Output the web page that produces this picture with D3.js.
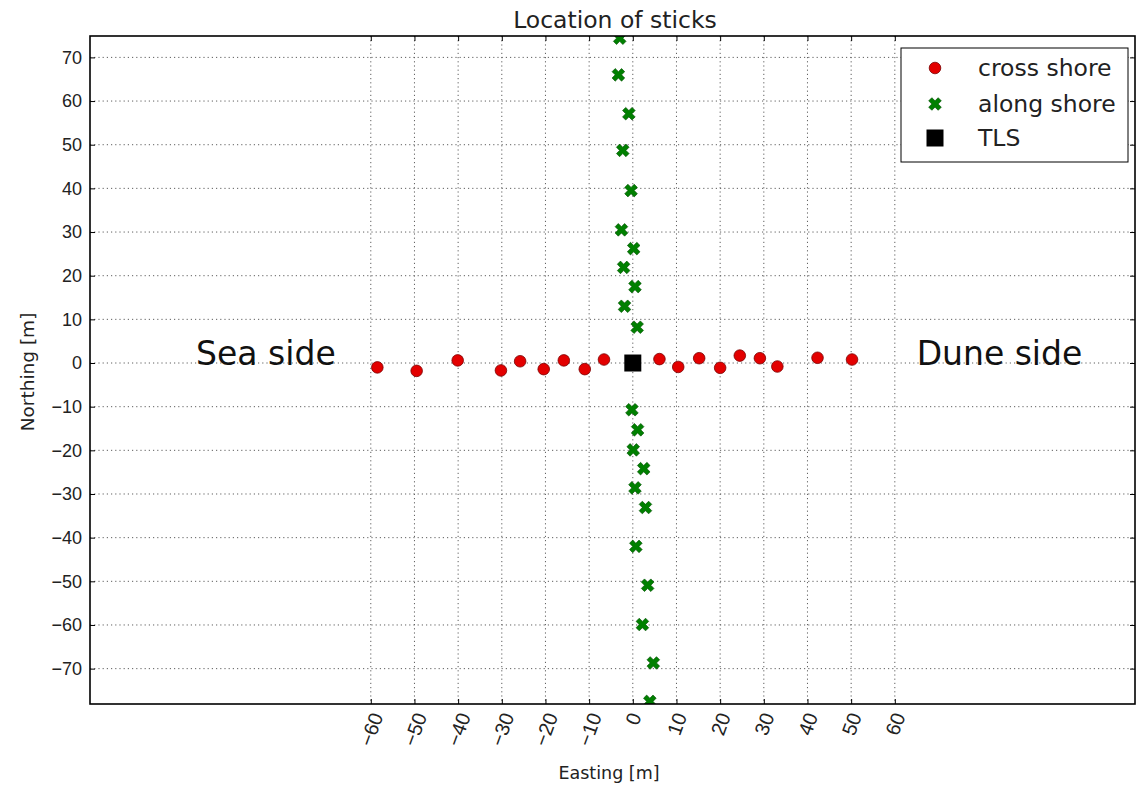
<!DOCTYPE html>
<html>
<head>
<meta charset="utf-8">
<script src="https://cdn.jsdelivr.net/npm/d3@7"></script>
<style>
  body { margin: 0; background: #fff; }
  svg { font-family: "DejaVu Sans", sans-serif; }
</style>
</head>
<body>
<svg id="chart" width="1136" height="787"></svg>
<script>
// stick positions
const crossX = [-58.5, -49.5, -40.1, -30.2, -25.8, -20.4, -15.8, -11.0, -6.6, 6.1, 10.4, 15.2, 20.0, 24.5, 29.1, 33.1, 42.3, 50.2];
const crossY = [-1.0, -1.8, 0.6, -1.7, 0.4, -1.4, 0.6, -1.4, 0.8, 0.9, -0.9, 1.1, -1.1, 1.7, 1.1, -0.8, 1.2, 0.8];
const alongX = [-3.0, -3.3, -0.9, -2.3, -0.4, -2.6, 0.2, -2.1, 0.5, -1.9, 1.0, -0.2, 1.1, 0.1, 2.5, 0.5, 2.9, 0.7, 3.4, 2.2, 4.7, 3.9];
const alongY = [74.4, 66.0, 57.1, 48.7, 39.5, 30.5, 26.2, 21.9, 17.5, 13.0, 8.2, -10.7, -15.3, -19.9, -24.2, -28.6, -33.1, -42.0, -50.9, -59.9, -68.7, -77.5];
const tlsX = [0];
const tlsY = [0];
const xTicks = [-60, -50, -40, -30, -20, -10, 0, 10, 20, 30, 40, 50, 60];
const yTicks = [-70, -60, -50, -40, -30, -20, -10, 0, 10, 20, 30, 40, 50, 60, 70];
const legendLabels = ["cross shore", "along shore", "TLS"];

const svg = d3.select("#chart");
const pLeft = 90, pRight = 1135, pTop = 36, pBottom = 704;

const x = d3.scaleLinear().domain([-124.3, 115]).range([pLeft, pRight]);
const y = d3.scaleLinear().domain([-78.1, 74.9]).range([pBottom, pTop]);

svg.append("defs").append("clipPath").attr("id", "clip")
  .append("rect").attr("x", pLeft).attr("y", pTop)
  .attr("width", pRight - pLeft).attr("height", pBottom - pTop);

// grid
const grid = svg.append("g").attr("stroke", "#444").attr("stroke-width", 1)
  .attr("stroke-dasharray", "1.2,3").attr("opacity", 0.85);
grid.selectAll(".gx").data(xTicks).join("line")
  .attr("x1", d => x(d)).attr("x2", d => x(d)).attr("y1", pTop).attr("y2", pBottom);
grid.selectAll(".gy").data(yTicks).join("line")
  .attr("y1", d => y(d)).attr("y2", d => y(d)).attr("x1", pLeft).attr("x2", pRight);

// axes (ticks point inward)
const fmt = d3.format("d");
const axisStyle = size => g => {
  g.select(".domain").remove();
  g.selectAll(".tick line").attr("stroke", "#000").attr("stroke-width", 1);
  g.selectAll("text").attr("fill", "#222").style("font-size", size);
};
svg.append("g").attr("transform", `translate(${pLeft},0)`)
  .call(d3.axisLeft(y).tickValues(yTicks).tickFormat(fmt).tickSizeInner(-5).tickSizeOuter(0).tickPadding(8))
  .call(axisStyle("18px"));
svg.append("g").attr("transform", `translate(${pRight},0)`)
  .call(d3.axisRight(y).tickValues(yTicks).tickFormat("").tickSizeInner(-5).tickSizeOuter(0))
  .call(axisStyle("18px"));
svg.append("g").attr("transform", `translate(0,${pTop})`)
  .call(d3.axisTop(x).tickValues(xTicks).tickFormat("").tickSizeInner(-5).tickSizeOuter(0))
  .call(axisStyle("18px"));
const xAxis = svg.append("g").attr("transform", `translate(0,${pBottom})`)
  .call(d3.axisBottom(x).tickValues(xTicks).tickFormat(fmt).tickSizeInner(-5).tickSizeOuter(0))
  .call(axisStyle("20px"));

// rotated x labels, bbox centred under the tick like matplotlib
const th = 70 * Math.PI / 180;
xAxis.selectAll(".tick text").each(function() {
  const t = d3.select(this);
  const w = this.getComputedTextLength();
  const h = 15;
  const cy = 7 + (w * Math.sin(th) + h * Math.cos(th)) / 2;
  t.attr("y", null).attr("dy", null)
    .attr("text-anchor", "middle").attr("dominant-baseline", "central")
    .attr("transform", `translate(0,${cy}) rotate(-70)`);
});

// marks
const plot = svg.append("g").attr("clip-path", "url(#clip)");

plot.selectAll(".cross").data(crossX).join("circle")
  .attr("cx", d => x(d)).attr("cy", (d, i) => y(crossY[i])).attr("r", 5.8)
  .attr("fill", "#e30000").attr("stroke", "#7a0000").attr("stroke-width", 0.8);

const xSym = d3.symbol().type(d3.symbolCross).size(100);
plot.selectAll(".along").data(alongX).join("path")
  .attr("d", xSym)
  .attr("transform", (d, i) => `translate(${x(d)},${y(alongY[i])}) rotate(45)`)
  .attr("fill", "#008000").attr("stroke", "#004d00").attr("stroke-width", 0.6);

const sq = d3.symbol().type(d3.symbolSquare).size(17 * 17);
plot.selectAll(".tls").data(tlsX).join("path")
  .attr("d", sq)
  .attr("transform", (d, i) => `translate(${x(d)},${y(tlsY[i])})`)
  .attr("fill", "#000");

// side annotations
svg.append("text").attr("x", x(-100)).attr("y", y(-0.4))
  .style("font-size", "33px").attr("fill", "#111").text("Sea side");
svg.append("text").attr("x", x(65)).attr("y", y(-0.4))
  .style("font-size", "33px").attr("fill", "#111").text("Dune side");

// frame
svg.append("rect").attr("x", pLeft).attr("y", pTop)
  .attr("width", pRight - pLeft).attr("height", pBottom - pTop)
  .attr("fill", "none").attr("stroke", "#000").attr("stroke-width", 1.6);

// titles
svg.append("text").attr("x", 615).attr("y", 28).attr("text-anchor", "middle")
  .style("font-size", "23.5px").attr("fill", "#222").text("Location of sticks");
svg.append("text").attr("x", 609).attr("y", 779).attr("text-anchor", "middle")
  .style("font-size", "17.5px").attr("fill", "#222").text("Easting [m]");
svg.append("text").attr("transform", "translate(34,372) rotate(-90)").attr("text-anchor", "middle")
  .style("font-size", "18.5px").attr("fill", "#222").text("Northing [m]");

// legend
const lg = svg.append("g");
lg.append("rect").attr("x", 901).attr("y", 48).attr("width", 227).attr("height", 114)
  .attr("fill", "#fff").attr("stroke", "#000").attr("stroke-width", 1);
const rowY = [68, 104, 138];
lg.append("circle").attr("cx", 935).attr("cy", rowY[0]).attr("r", 5.8)
  .attr("fill", "#e30000").attr("stroke", "#7a0000").attr("stroke-width", 0.8);
lg.append("path").attr("d", xSym).attr("transform", `translate(935,${rowY[1]}) rotate(45)`)
  .attr("fill", "#008000").attr("stroke", "#004d00").attr("stroke-width", 0.6);
lg.append("path").attr("d", sq).attr("transform", `translate(935,${rowY[2]})`).attr("fill", "#000");
lg.selectAll(".lt").data(legendLabels).join("text")
  .attr("x", 978).attr("y", (d, i) => rowY[i]).attr("dominant-baseline", "central")
  .style("font-size", "23.5px").attr("fill", "#222").text(d => d);
</script>
</body>
</html>
